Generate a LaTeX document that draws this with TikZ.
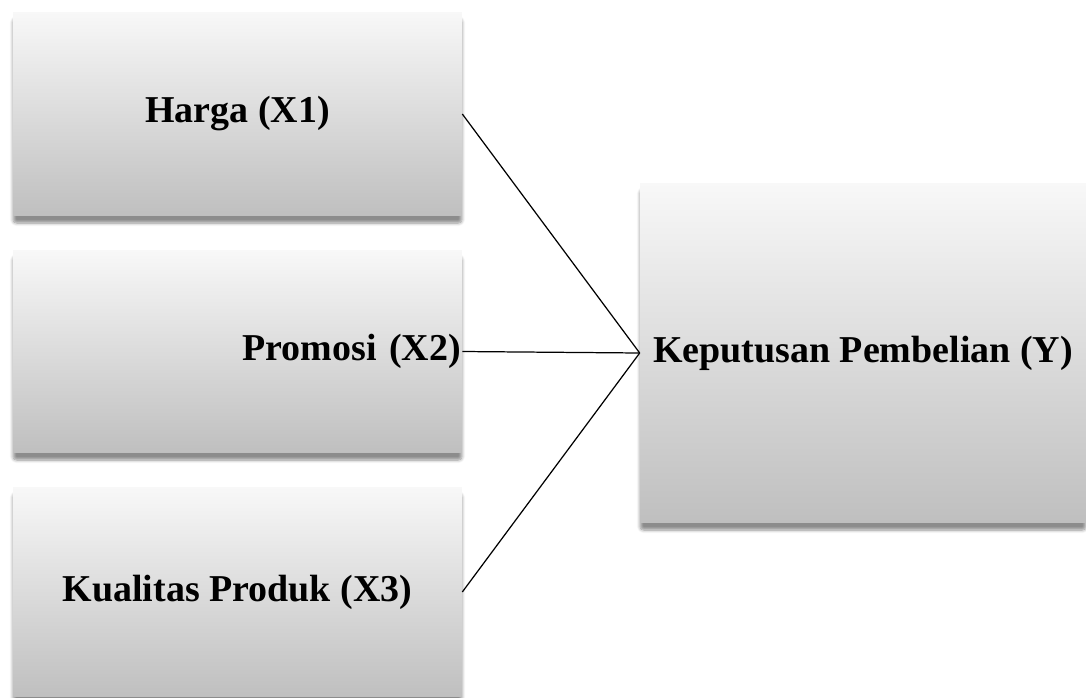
\documentclass[tikz,border=0pt]{standalone}
\usepackage{fontspec}
\setmainfont{Liberation Serif}
\usepackage{xcolor}
\usetikzlibrary{shadows.blur}
\definecolor{cajatop}{HTML}{F8F8F8}
\definecolor{cajabot}{HTML}{BFBFBF}

\begin{document}
\begin{tikzpicture}[x=0.02cm, y=-0.02cm,
  caja/.style={top color=cajatop, bottom color=cajabot, inner sep=0pt,
               blur shadow={shadow xshift=0pt, shadow yshift=-4pt, shadow blur steps=6,
                            shadow opacity=45, shadow blur extra rounding=2pt},
               font=\fontsize{21.6pt}{26pt}\selectfont\bfseries, align=center},
  linea/.style={line width=0.7pt, black}]
\useasboundingbox (0,0) rectangle (1086,697);
\node[caja, minimum width=8.98cm, minimum height=4.08cm] (harga) at (237.5,114) {Harga (X1)};
\node[caja, minimum width=8.98cm, minimum height=4.06cm, text width=8.94cm, align=right]
  (promosi) at (237.5,351.5) {Promosi (X2)};
\node[caja, minimum width=8.98cm, minimum height=4.2cm] (kualitas) at (237.5,592) {Kualitas Produk (X3)};
\node[caja, minimum width=8.92cm, minimum height=6.8cm] (kp) at (863,353) {Keputusan Pembelian (Y)};
\foreach \a in {harga, promosi, kualitas}
  \draw[linea] (\a.east) -- (kp.west);
\end{tikzpicture}
\end{document}
